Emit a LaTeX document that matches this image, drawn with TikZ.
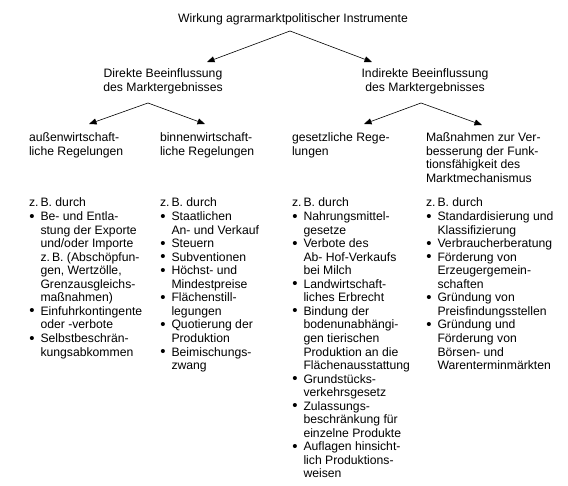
\documentclass[tikz,border=0pt]{standalone}
\usepackage{fontspec}
\setmainfont{Liberation Sans}
\usetikzlibrary{arrows.meta}
\newcommand{\bul}{\makebox[11.5pt][l]{\hspace{0.3pt}{\fontsize{15}{13.5}\selectfont\raisebox{-0.6pt}{•}}}}
\newcommand{\zb}[1]{\multicolumn{2}{@{}l@{}}{#1}}
\begin{document}
\begin{tikzpicture}[x=1pt,y=-1pt,
  txt/.style={inner sep=0pt,outer sep=0pt,anchor=base west,font=\fontsize{12.2}{13.55}\selectfont},
  ctxt/.style={txt,anchor=base},
  conn/.style={line width=0.6pt,-{Triangle[length=7.5pt,width=6pt]}}]
\useasboundingbox (0,0) rectangle (568,486);
\renewcommand{\arraystretch}{1}
% title
\node[ctxt] (title) at (293,23) {Wirkung agrarmarktpolitischer Instrumente};
% level 2
\node[ctxt] (direkt) at (163,78) {\begin{tabular}[t]{@{}c@{}}Direkte Beeinflussung\\des Marktergebnisses\end{tabular}};
\node[ctxt] (indirekt) at (425,78) {\begin{tabular}[t]{@{}c@{}}Indirekte Beeinflussung\\des Marktergebnisses\end{tabular}};
% level 3
\node[txt] (aussen) at (29,141.5) {\begin{tabular}[t]{@{}l@{}}außenwirtschaft-\\liche Regelungen\end{tabular}};
\node[txt] (binnen) at (160,141.5) {\begin{tabular}[t]{@{}l@{}}binnenwirtschaft-\\liche Regelungen\end{tabular}};
\node[txt] (gesetz) at (292,141.5) {\begin{tabular}[t]{@{}l@{}}gesetzliche Rege-\\lungen\end{tabular}};
\node[txt] (mass) at (426,141.5) {\begin{tabular}[t]{@{}l@{}}Maßnahmen zur Ver-\\besserung der Funk-\\tionsfähigkeit des\\Marktmechanismus\end{tabular}};
% arrow coordinates
\coordinate (a1) at (290,31);
\coordinate (t1l) at (207,62);
\coordinate (t1r) at (372,62);
\coordinate (a2) at (148,103);
\coordinate (t2l) at (89,124);
\coordinate (t2r) at (205,124);
\coordinate (a3) at (421,103);
\coordinate (t3l) at (364,124);
\coordinate (t3r) at (482,125);
\draw[conn] (a1) -- (t1l);
\draw[conn] (a1) -- (t1r);
\draw[conn] (a2) -- (t2l);
\draw[conn] (a2) -- (t2r);
\draw[conn] (a3) -- (t3l);
\draw[conn] (a3) -- (t3r);
% lists
\node[txt] (list1) at (29,207) {\begin{tabular}[t]{@{}l@{}l@{}}
\zb{z.\,B. durch}\\
\bul & Be- und Entla-\\
 & stung der Exporte\\
 & und/oder Importe\\
 & z.\,B. (Abschöpfun-\\
 & gen, Wertzölle,\\
 & Grenzausgleichs-\\
 & maßnahmen)\\
\bul & Einfuhrkontingente\\
 & oder -verbote\\
\bul & Selbstbeschrän-\\
 & kungsabkommen
\end{tabular}};
\node[txt] (list2) at (160,207) {\begin{tabular}[t]{@{}l@{}l@{}}
\zb{z.\,B. durch}\\
\bul & Staatlichen\\
 & An- und Verkauf\\
\bul & Steuern\\
\bul & Subventionen\\
\bul & Höchst- und\\
 & Mindestpreise\\
\bul & Flächenstill-\\
 & legungen\\
\bul & Quotierung der\\
 & Produktion\\
\bul & Beimischungs-\\
 & zwang
\end{tabular}};
\node[txt] (list3) at (292,207) {\begin{tabular}[t]{@{}l@{}l@{}}
\zb{z.\,B. durch}\\
\bul & Nahrungsmittel-\\
 & gesetze\\
\bul & Verbote des\\
 & Ab- Hof-Verkaufs\\
 & bei Milch\\
\bul & Landwirtschaft-\\
 & liches Erbrecht\\
\bul & Bindung der\\
 & bodenunabhängi-\\
 & gen tierischen\\
 & Produktion an die\\
 & Flächenausstattung\\
\bul & Grundstücks-\\
 & verkehrsgesetz\\
\bul & Zulassungs-\\
 & beschränkung für\\
 & einzelne Produkte\\
\bul & Auflagen hinsicht-\\
 & lich Produktions-\\
 & weisen
\end{tabular}};
\node[txt] (list4) at (426,207) {\begin{tabular}[t]{@{}l@{}l@{}}
\zb{z.\,B. durch}\\
\bul & Standardisierung und\\
 & Klassifizierung\\
\bul & Verbraucherberatung\\
\bul & Förderung von\\
 & Erzeugergemein-\\
 & schaften\\
\bul & Gründung von\\
 & Preisfindungsstellen\\
\bul & Gründung und\\
 & Förderung von\\
 & Börsen- und\\
 & Warenterminmärkten
\end{tabular}};
\end{tikzpicture}
\end{document}
